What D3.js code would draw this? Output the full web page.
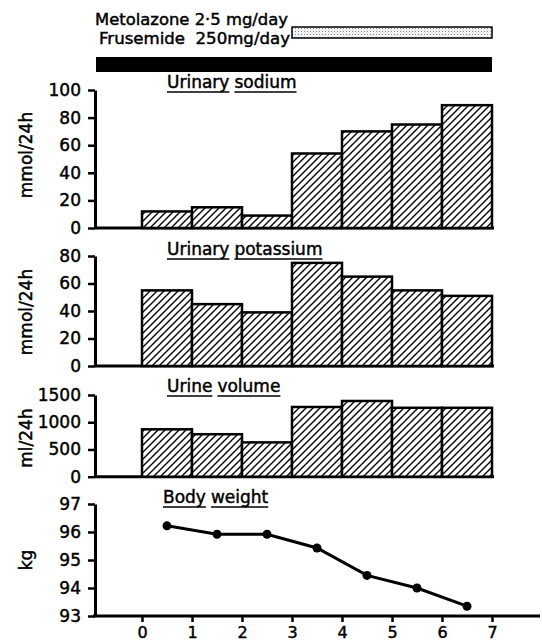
<!DOCTYPE html>
<html>
<head>
<meta charset="utf-8">
<script src="https://cdn.jsdelivr.net/npm/d3@7"></script>
<style>
  body { margin: 0; background: #fff; }
  text { font-family: "DejaVu Sans", sans-serif; fill: #000; stroke: #000; stroke-width: 0.45px; }
</style>
</head>
<body>
<div id="vis"><svg></svg></div>
<script>
// data
var days = [0, 1, 2, 3, 4, 5, 6];               // bar start day, each bar spans one day
var sodium = [12, 15, 9, 54, 70, 75, 89];        // mmol/24h
var potassium = [55, 45, 39, 75, 65, 55, 51];    // mmol/24h
var volume = [870, 780, 630, 1280, 1390, 1265, 1265]; // ml/24h
var weightDays = [0.5, 1.5, 2.5, 3.5, 4.5, 5.5, 6.5];
var weight = [96.22, 95.92, 95.92, 95.43, 94.45, 94.0, 93.35]; // kg
var dayTicks = [0, 1, 2, 3, 4, 5, 6, 7];
var sodiumTicks = [0, 20, 40, 60, 80, 100];
var potassiumTicks = [0, 20, 40, 60, 80];
var volumeTicks = [0, 500, 1000, 1500];
var weightTicks = [93, 94, 95, 96, 97];
var drugNames = ["Metolazone 2·5 mg/day", "Frusemide  250mg/day"];
var drugStart = [3, -0.92];
var drugEnd = [7, 7];

var width = 542, height = 644;
var svg = d3.select("#vis").select("svg")
    .attr("width", width)
    .attr("height", height);

var defs = svg.append("defs");
var hatch = defs.append("pattern")
    .attr("id", "hatch")
    .attr("patternUnits", "userSpaceOnUse")
    .attr("width", 7).attr("height", 7);
hatch.append("rect").attr("width", 7).attr("height", 7).attr("fill", "#fff");
hatch.append("path")
    .attr("d", "M-1,1 l2,-2 M0,7 l7,-7 M6,8 l2,-2")
    .attr("stroke", "#000").attr("stroke-width", 1.4);

var dots = defs.append("pattern")
    .attr("id", "dots")
    .attr("patternUnits", "userSpaceOnUse")
    .attr("width", 3).attr("height", 3);
dots.append("rect").attr("width", 3).attr("height", 3).attr("fill", "#f2f2f2");
dots.append("rect").attr("x", 1).attr("y", 1).attr("width", 1).attr("height", 1).attr("fill", "#888");

var x = d3.scaleLinear().domain([0, 7]).range([142, 492]);
var axisX = 95;

// drug bars at the top
var drugY = [27, 57], drugH = [11, 15];
svg.append("text").attr("x", 95).attr("y", 25).attr("font-size", 16)
    .attr("textLength", 193).attr("lengthAdjust", "spacingAndGlyphs")
    .style("white-space", "pre").text(drugNames[0]);
svg.append("text").attr("x", 99).attr("y", 44).attr("font-size", 16)
    .attr("textLength", 191).attr("lengthAdjust", "spacingAndGlyphs")
    .style("white-space", "pre").text(drugNames[1]);
svg.append("rect")
    .attr("x", x(drugStart[0])).attr("y", drugY[0])
    .attr("width", x(drugEnd[0]) - x(drugStart[0])).attr("height", drugH[0])
    .attr("fill", "url(#dots)").attr("stroke", "#000").attr("stroke-width", 1.5);
svg.append("rect")
    .attr("x", x(drugStart[1])).attr("y", drugY[1])
    .attr("width", x(drugEnd[1]) - x(drugStart[1])).attr("height", drugH[1])
    .attr("fill", "#000");

function underlinedTitle(words, tx, ty) {
    var cx = tx;
    words.forEach(function(w) {
        var t = svg.append("text").attr("x", cx).attr("y", ty).attr("font-size", 17).text(w);
        var len = t.node().getComputedTextLength();
        svg.append("line")
            .attr("x1", cx).attr("x2", cx + len)
            .attr("y1", ty + 4).attr("y2", ty + 4)
            .attr("stroke", "#000").attr("stroke-width", 1.6);
        cx += len + 5;
    });
}

function yAxis(y, ticks, label, labelY) {
    var g = svg.append("g")
        .attr("transform", "translate(" + axisX + ",0)")
        .call(d3.axisLeft(y).tickValues(ticks).tickFormat(d3.format("d"))
            .tickSize(7).tickSizeOuter(0).tickPadding(7));
    g.select(".domain").attr("stroke-width", 3);
    g.selectAll(".tick line").attr("stroke-width", 2.5);
    g.selectAll(".tick text").attr("font-size", 17).attr("font-family", "DejaVu Sans");
    svg.append("text")
        .attr("transform", "translate(32," + labelY + ") rotate(-90)")
        .attr("text-anchor", "middle")
        .attr("font-size", 17)
        .text(label);
}

function barPanel(values, y, ticks, label, labelY, title, titleY) {
    yAxis(y, ticks, label, labelY);
    svg.append("line")
        .attr("x1", axisX).attr("x2", x(7) + 2)
        .attr("y1", y(0)).attr("y2", y(0))
        .attr("stroke", "#000").attr("stroke-width", 3);
    svg.append("g").selectAll("rect")
        .data(values)
        .join("rect")
        .attr("x", function(d, i) { return x(days[i]); })
        .attr("y", function(d) { return y(d); })
        .attr("width", function(d, i) { return x(days[i] + 1) - x(days[i]); })
        .attr("height", function(d) { return y(0) - y(d); })
        .attr("fill", "url(#hatch)")
        .attr("stroke", "#000")
        .attr("stroke-width", 2.5);
    underlinedTitle(title, 167, titleY);
}

var ySod = d3.scaleLinear().domain([0, 100]).range([228, 90]);
barPanel(sodium, ySod, sodiumTicks, "mmol/24h", 155, ["Urinary", "sodium"], 88);

var yPot = d3.scaleLinear().domain([0, 80]).range([366, 256]);
barPanel(potassium, yPot, potassiumTicks, "mmol/24h", 312, ["Urinary", "potassium"], 255);

var yVol = d3.scaleLinear().domain([0, 1500]).range([476.7, 395]);
barPanel(volume, yVol, volumeTicks, "ml/24h", 438, ["Urine", "volume"], 392);

// body weight
var yW = d3.scaleLinear().domain([93, 97]).range([616, 504]);
yAxis(yW, weightTicks, "kg", 560);

var gx = svg.append("g")
    .attr("transform", "translate(0," + yW(93) + ")")
    .call(d3.axisBottom(x).tickValues(dayTicks).tickFormat(d3.format("d"))
        .tickSize(6).tickSizeOuter(0).tickPadding(5));
gx.select(".domain").remove();
gx.selectAll(".tick line").attr("stroke-width", 2.5);
gx.selectAll(".tick text").attr("font-size", 16).attr("font-family", "DejaVu Sans");
svg.append("line")
    .attr("x1", x(-0.98)).attr("x2", x(7.96))
    .attr("y1", yW(93)).attr("y2", yW(93))
    .attr("stroke", "#000").attr("stroke-width", 3);

svg.append("path")
    .datum(weight)
    .attr("fill", "none")
    .attr("stroke", "#000")
    .attr("stroke-width", 3)
    .attr("d", d3.line()
        .x(function(d, i) { return x(weightDays[i]); })
        .y(function(d) { return yW(d); }));
svg.append("g").selectAll("circle")
    .data(weight)
    .join("circle")
    .attr("cx", function(d, i) { return x(weightDays[i]); })
    .attr("cy", function(d) { return yW(d); })
    .attr("r", 4.5)
    .attr("fill", "#000");

underlinedTitle(["Body", "weight"], 163, 503);
</script>
</body>
</html>
